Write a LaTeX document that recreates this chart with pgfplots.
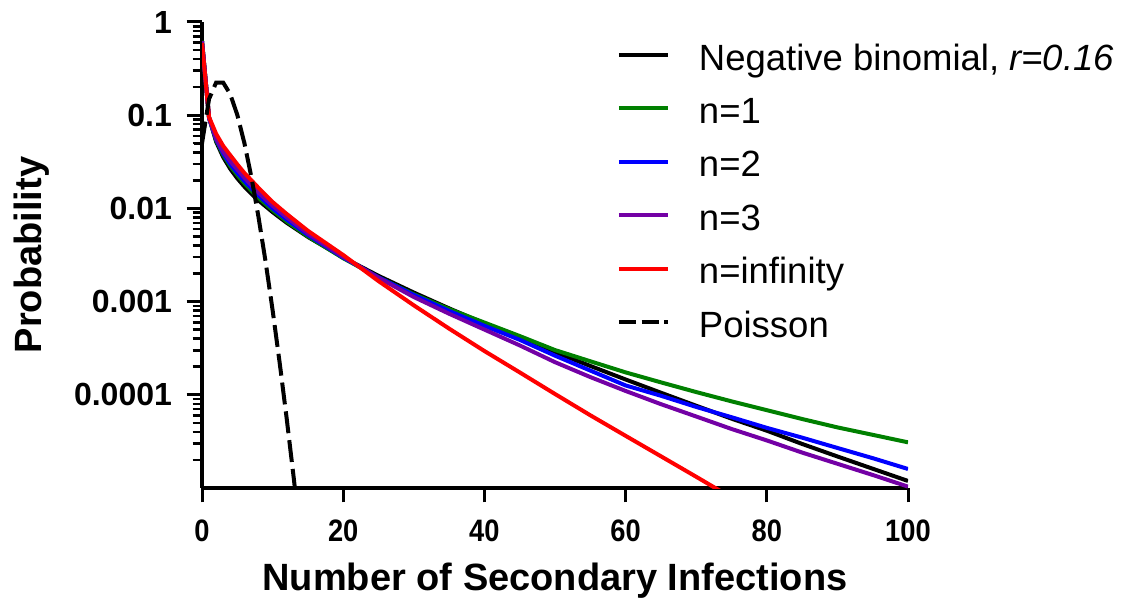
\documentclass[border=0pt]{standalone}
\usepackage{pgfplots}
\pgfplotsset{compat=1.18}
\usepackage{fontspec}
\setmainfont{Liberation Sans}
\usepackage{graphicx}
\definecolor{cgreen}{RGB}{0,128,0}
\definecolor{cblue}{RGB}{0,0,255}
\definecolor{cpurple}{RGB}{115,0,165}
\definecolor{cred}{RGB}{255,0,0}
\newcommand\sx[1]{\scalebox{0.88}[1]{#1}}
\begin{document}
\begin{tikzpicture}
\path (0,0) rectangle (573pt,299pt);
% axis tick marks (axis frame: x 101pt..454pt, y 55pt..288pt)
\foreach \i in {0,...,5}{
  \fill[black] ({101pt+\i*70.6pt-0.75pt},55pt) rectangle ({101pt+\i*70.6pt+0.75pt},48pt);
  \node[inner sep=0pt, anchor=north] at ({101pt+\i*70.6pt},55pt) {\rule{1.5pt}{7pt}};}
\foreach \d in {1,...,5}{
  \fill[black] (93.5pt,{55pt+\d*46.6pt-0.75pt}) rectangle (101pt,{55pt+\d*46.6pt+0.75pt});
  \node[inner sep=0pt, anchor=east] at (101pt,{55pt+\d*46.6pt}) {\rule{7.5pt}{1.5pt}};}
\foreach \d in {0,...,4}{
  \foreach \m in {2,...,9}{
    \pgfmathsetmacro\yy{55+(\d+log10(\m))*46.6}
    \fill[black] (96.5pt,\yy pt-0.62pt) rectangle (101pt,\yy pt+0.62pt);
    \node[inner sep=0pt, anchor=east] at (101pt,\yy pt) {\rule{4.5pt}{1.25pt}};}}
\begin{axis}[
  at={(101pt,55pt)}, anchor=south west,
  width=353pt, height=233pt, scale only axis,
  xmin=0, xmax=100, ymin=1e-5, ymax=1,
  ymode=log,
  axis x line=bottom, axis y line=left,
  axis line style={-, line width=1.6pt},
  tick align=outside,
  major tick length=6.5pt, minor tick length=4pt,
  tick style={black, line width=1.5pt},
  minor tick style={line width=1.25pt},
  xtick={0,20,40,60,80,100},
  xticklabels={\sx{0},\sx{20},\sx{40},\sx{60},\sx{80},\sx{100}},
  ytick={1e-4,1e-3,1e-2,1e-1,1},
  yticklabels={0.0001,0.001,0.01,0.1,1},
  xticklabel shift=6pt, yticklabel shift=5pt,
  xticklabel style={font=\fontsize{15.5}{18}\selectfont\bfseries},
  yticklabel style={font=\fontsize{16}{19}\selectfont\bfseries},
  xlabel={Number of Secondary Infections},
  ylabel={Probability},
  xlabel style={at={(axis description cs:0.5,-0.219)}, anchor=base, font=\fontsize{19}{23}\selectfont\bfseries},
  ylabel style={at={(axis description cs:-0.228,0.5)}, anchor=base, rotate=0, font=\fontsize{19}{23}\selectfont\bfseries},
  legend cell align=left,
  legend style={at={(axis description cs:0.5878,0.971)}, anchor=north west,
    draw=none, fill=none, inner sep=0pt, outer sep=0pt,
    row sep=7.2pt, column sep=13.5pt,
    font=\fontsize{18.25}{22}\selectfont,
    nodes={inner sep=1pt, text height=16.25pt, text depth=1.25pt}},
  legend image code/.code={\draw[#1] (0pt,0pt) -- (24.5pt,0pt);},
]
\addplot[black, line width=2pt, line join=round] coordinates {
(0,0.6205) (1,0.0942) (2,0.0519) (3,0.0355) (4,0.0266) (5,0.0210) (6,0.01716) (7,0.01433) (8,0.01218)
(10,0.00912) (12,0.00701) (15,0.00494) (20,0.00297) (25,0.00189) (30,0.00125) (35,8.46e-4)
(40,5.82e-4) (45,4.06e-4) (50,2.87e-4) (55,2.04e-4) (60,1.46e-4) (65,1.053e-4) (70,7.63e-5)
(75,5.55e-5) (80,4.12e-5) (85,2.97e-5) (90,2.18e-5) (95,1.61e-5) (100,1.19e-5)};
\addlegendentry{Negative binomial, \textit{r=0.16}}
\addplot[cgreen, line width=2pt, line join=round] coordinates {
(0,0.631) (1,0.0933) (2,0.0537) (3,0.0376) (4,0.0285) (5,0.0228) (6,0.0186) (7,0.0155) (8,0.0130)
(10,0.00955) (12,0.00724) (15,0.00501) (20,0.00292) (25,0.00182) (30,0.00120) (35,8.32e-4)
(40,5.96e-4) (45,4.27e-4) (50,3.02e-4) (55,2.29e-4) (60,1.74e-4) (65,1.36e-4) (70,1.07e-4)
(75,8.51e-5) (80,6.84e-5) (85,5.50e-5) (90,4.47e-5) (95,3.72e-5) (100,3.09e-5)};
\addlegendentry{n=1}
\addplot[cblue, line width=2pt, line join=round] coordinates {
(0,0.621) (1,0.0933) (2,0.0550) (3,0.0389) (4,0.0299) (5,0.0241) (6,0.0197) (7,0.0164) (8,0.0138)
(10,0.0100) (12,0.00759) (15,0.00519) (20,0.00297) (25,0.00182) (30,0.00118) (35,7.94e-4)
(40,5.50e-4) (45,3.89e-4) (50,2.63e-4) (55,1.82e-4) (60,1.26e-4) (65,9.77e-5) (70,7.41e-5)
(75,5.75e-5) (80,4.42e-5) (85,3.47e-5) (90,2.69e-5) (95,2.09e-5) (100,1.60e-5)};
\addlegendentry{n=2}
\addplot[cpurple, line width=2pt, line join=round] coordinates {
(0,0.621) (1,0.0933) (2,0.0562) (3,0.0407) (4,0.0320) (5,0.0262) (6,0.0214) (7,0.0178) (8,0.0148)
(10,0.0107) (12,0.00804) (15,0.00537) (20,0.00302) (25,0.00180) (30,0.00112) (35,7.41e-4)
(40,5.01e-4) (45,3.39e-4) (50,2.24e-4) (55,1.55e-4) (60,1.10e-4) (65,7.94e-5) (70,5.85e-5)
(75,4.30e-5) (80,3.24e-5) (85,2.40e-5) (90,1.82e-5) (95,1.38e-5) (100,1.035e-5)};
\addlegendentry{n=3}
\addplot[cred, line width=2pt, line join=round] coordinates {
(0,0.596) (1,0.0955) (2,0.0631) (3,0.0468) (4,0.0372) (5,0.0297) (6,0.0240) (7,0.0200) (8,0.0166)
(10,0.0117) (12,0.00871) (15,0.00575) (20,0.00316) (25,0.00166) (30,9.12e-4) (35,5.13e-4)
(40,2.95e-4) (45,1.74e-4) (50,1.02e-4) (55,6.03e-5) (60,3.63e-5) (65,2.19e-5) (70,1.32e-5)
(75,7.9e-6)};
\addlegendentry{n=infinity}
\addplot[black, line width=2pt, dash pattern=on 11pt off 3.5pt,
  legend image post style={dash pattern=on 8.7pt off 2.6pt}] coordinates {
(0,0.0498) (1,0.1494) (2,0.2240) (3,0.2240) (4,0.1680) (5,0.1008) (6,0.0504) (7,0.0216)
(8,0.0081) (9,0.0027) (10,8.1e-4) (11,2.21e-4) (12,5.52e-5) (13,1.27e-5) (14,2.73e-6)};
\addlegendentry{Poisson}
\end{axis}
\end{tikzpicture}
\end{document}
